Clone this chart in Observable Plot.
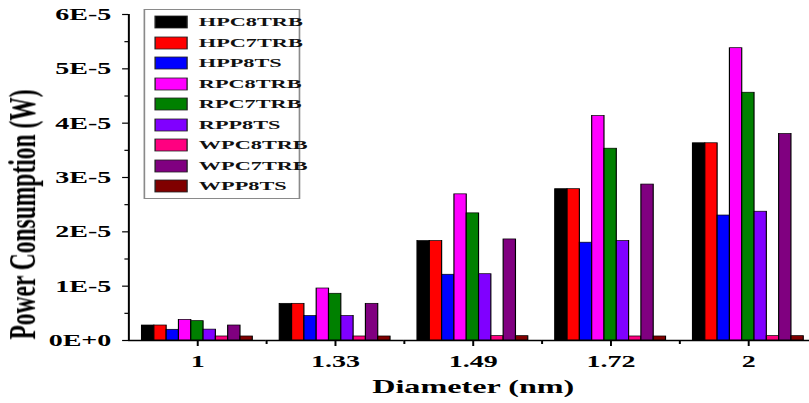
<!DOCTYPE html>
<html>
<head>
<meta charset="utf-8">
<script src="https://cdn.jsdelivr.net/npm/d3@7"></script>
<script src="https://cdn.jsdelivr.net/npm/@observablehq/plot@0.6"></script>
<style>
html, body { margin: 0; padding: 0; background: #fff; overflow: hidden; width: 809px; height: 403px; }
#wrap { position: relative; width: 495px; height: 403px; transform: scaleX(1.65); transform-origin: 0 0;
        font-family: "Liberation Serif", "Times New Roman", serif; }
#chart svg { display: block; }
#legend { position: absolute; left: 86.5px; top: 9.3px; width: 95px; box-sizing: border-box;
          border: 1px solid #8a8a8a; background: #fff; padding: 1.5px 0 2px 6px; }
#legend .lg-swatches { font: bold 13.5px "Liberation Serif", "Times New Roman", serif; color: #111; margin: 0; padding: 0; min-height: 0; }
#legend .lg-swatch { height: 20.5px; padding: 0; margin: 0; display: flex; align-items: center; overflow: visible; }
#legend .lg-swatch * { overflow: visible !important; text-overflow: clip !important; white-space: nowrap; }
#legend .lg-swatch svg { margin-right: 7.6px; flex: none; }
#legend .lg-swatch svg rect { stroke: #222; stroke-width: 0.8; }
</style>
</head>
<body>
<div id="wrap"><div id="chart"></div><div id="legend"></div></div>
<script>
// Categories (x axis)
const diameters = ["1", "1.33", "1.49", "1.72", "2"];
// Series names (legend order)
const series = ["HPC8TRB", "HPC7TRB", "HPP8TS", "RPC8TRB", "RPC7TRB", "RPP8TS", "WPC8TRB", "WPC7TRB", "WPP8TS"];
const colors = ["#000000", "#ff0000", "#0000ff", "#ff00ff", "#008000", "#8000ff", "#ff0080", "#800080", "#800000"];

// Power consumption (W) per series, one value per diameter
const HPC8TRB = [0.276e-5, 0.675e-5, 1.83e-5, 2.785e-5, 3.63e-5];
const HPC7TRB = [0.276e-5, 0.675e-5, 1.83e-5, 2.785e-5, 3.63e-5];
const HPP8TS  = [0.197e-5, 0.45e-5, 1.21e-5, 1.80e-5, 2.30e-5];
const RPC8TRB = [0.38e-5, 0.957e-5, 2.69e-5, 4.13e-5, 5.38e-5];
const RPC7TRB = [0.356e-5, 0.86e-5, 2.34e-5, 3.53e-5, 4.56e-5];
const RPP8TS  = [0.20e-5, 0.45e-5, 1.22e-5, 1.83e-5, 2.37e-5];
const WPC8TRB = [0.074e-5, 0.074e-5, 0.08e-5, 0.074e-5, 0.08e-5];
const WPC7TRB = [0.276e-5, 0.675e-5, 1.86e-5, 2.87e-5, 3.80e-5];
const WPP8TS  = [0.074e-5, 0.074e-5, 0.08e-5, 0.074e-5, 0.08e-5];

// Axis ticks and titles
const yTicks = [0, 1e-5, 2e-5, 3e-5, 4e-5, 5e-5, 6e-5];
const yMinorTicks = [0.5e-5, 1.5e-5, 2.5e-5, 3.5e-5, 4.5e-5, 5.5e-5];
const yTitle = ["Power Consumption (W)"];
const xTitle = "Diameter (nm)";

const valuesBySeries = [HPC8TRB, HPC7TRB, HPP8TS, RPC8TRB, RPC7TRB, RPP8TS, WPC8TRB, WPC7TRB, WPP8TS];
const data = diameters.flatMap((d, i) => series.map((s, j) => ({diameter: d, series: s, value: valuesBySeries[j][i]})));

const fmt = d => d === 0 ? "0E+0" : `${Math.round(d / 1e-5)}E-5`;
const facetStep = (495 - 77.6) / diameters.length;

const chart = Plot.plot({
  width: 495,
  height: 403,
  marginLeft: 77.6,
  marginRight: 0,
  marginTop: 14,
  marginBottom: 63,
  style: {fontFamily: '"Liberation Serif", "Times New Roman", serif', background: "#fff", color: "#000", overflow: "visible"},
  fx: {domain: diameters, padding: 0, round: false, axis: null},
  x: {domain: series, paddingInner: 0, paddingOuter: 1.097, round: false, axis: null},
  y: {domain: [0, 6e-5], axis: null},
  color: {domain: series, range: colors},
  marks: [
    Plot.barY(data, {fx: "diameter", x: "series", y: "value", fill: "series", stroke: "#000", strokeWidth: 0.7}),
    Plot.ruleY([0], {stroke: "#000", strokeWidth: 1.3}),
    Plot.frame({anchor: "left", facetAnchor: "left", stroke: "#000", strokeWidth: 1.2}),
    Plot.axisY(yTicks, {tickSize: 3.6, tickPadding: 7, tickFormat: fmt, fontSize: 17, fontWeight: "bold", label: null, strokeWidth: 1.2}),
    Plot.axisY(yMinorTicks, {tickSize: 2.2, fill: "none", label: null, strokeWidth: 1.2}),
    Plot.text(yTitle, {frameAnchor: "left", facetAnchor: "left", rotate: -90, textAnchor: "middle", lineAnchor: "middle",
                       dx: -64.5, dy: 37, fontSize: 23.5, fontWeight: "bold", fill: "#000"}),
    Plot.axisFx({anchor: "bottom", tickSize: 6, tickPadding: 8, fontSize: 17, fontWeight: "bold", label: null, strokeWidth: 1.2}),
    Plot.axisFx({anchor: "bottom", tickSize: 4, fill: "none", label: null, dx: facetStep / 2, strokeWidth: 1.2}),
    Plot.axisFx([], {anchor: "bottom", label: xTitle, labelAnchor: "center", labelArrow: "none", labelOffset: 52, fontSize: 19.5, fontWeight: "bold"})
  ]
});
document.getElementById("chart").appendChild(chart);

const legend = Plot.legend({
  color: {domain: series, range: colors},
  legend: "swatches",
  columns: 1,
  swatchWidth: 19.4,
  swatchHeight: 12,
  className: "lg"
});
document.getElementById("legend").appendChild(legend);
</script>
</body>
</html>
